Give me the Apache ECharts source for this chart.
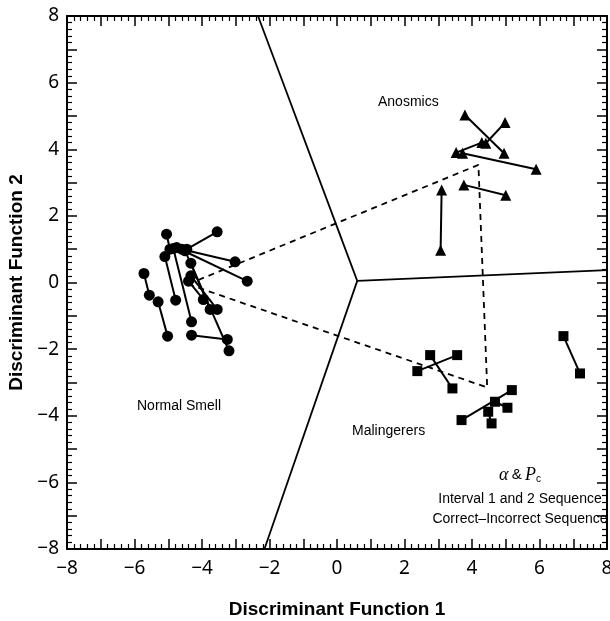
<!DOCTYPE html>
<html>
<head>
<meta charset="utf-8">
<script src="https://cdn.jsdelivr.net/npm/echarts@6/dist/echarts.min.js"></script>
<style>
  html, body { margin: 0; padding: 0; background: #fff; overflow: hidden; }
  #main { width: 610px; height: 621px; }
</style>
</head>
<body>
<div id="main"></div>
<script>
// each row: [x1, y1, x2, y2] -- one subject, two sessions
var normalPairs = [
  [-5.72, 0.27, -5.56, -0.38],
  [-5.30, -0.58, -5.02, -1.61],
  [-4.31, -1.58, -3.25, -1.71],
  [-4.45, 1.00, -3.55, 1.52],
  [-4.60, 1.00, -3.02, 0.62],
  [-4.75, 1.05, -2.66, 0.04],
  [-5.05, 1.45, -4.95, 1.00],
  [-5.10, 0.78, -4.78, -0.53],
  [-4.85, 1.02, -4.31, -1.18],
  [-4.40, 0.04, -3.96, -0.51],
  [-4.33, 0.58, -3.76, -0.81],
  [-4.33, 0.20, -3.55, -0.81],
  [-4.50, 0.95, -3.20, -2.05]
];
var anosmicPairs = [
  [3.79, 5.03, 4.95, 3.88],
  [4.98, 4.80, 4.41, 4.18],
  [4.29, 4.20, 3.53, 3.90],
  [3.72, 3.88, 5.90, 3.40],
  [3.76, 2.93, 5.00, 2.62],
  [3.10, 2.78, 3.07, 0.97]
];
var malingererPairs = [
  [2.38, -2.66, 3.56, -2.18],
  [2.76, -2.18, 3.42, -3.18],
  [3.69, -4.13, 5.18, -3.23],
  [4.68, -3.58, 5.05, -3.76],
  [4.48, -3.88, 4.58, -4.23],
  [6.71, -1.61, 7.20, -2.73]
];
// territorial map boundaries
var boundaryCenter = [0.60, 0.05];
var boundaryEnds = [[-2.34, 8], [8, 0.37], [-2.15, -8]];
// group centroids (dashed triangle)
var centroids = [[-4.41, -0.05], [4.19, 3.53], [4.45, -3.15], [-4.41, -0.05]];

function fmtTick(v) {
  if (v % 2 !== 0) return '';
  return v < 0 ? '\u2212' + Math.abs(v) : String(v);
}

var chart = echarts.init(document.getElementById('main'));
var series = [];

function addPairs(pairs, symbol, size) {
  pairs.forEach(function (p) {
    series.push({
      type: 'line',
      data: [[p[0], p[1]], [p[2], p[3]]],
      symbol: symbol,
      symbolSize: size,
      showSymbol: true,
      silent: true,
      animation: false,
      z: 5,
      lineStyle: { color: '#000', width: 2 },
      itemStyle: { color: '#000', borderWidth: 0 }
    });
  });
}

boundaryEnds.forEach(function (e) {
  series.push({
    type: 'line',
    data: [boundaryCenter, e],
    symbol: 'none',
    silent: true,
    animation: false,
    lineStyle: { color: '#000', width: 1.8 }
  });
});

series.push({
  type: 'line',
  data: centroids,
  symbol: 'none',
  silent: true,
  animation: false,
  lineStyle: { color: '#000', width: 1.8, type: [6, 5] }
});

addPairs(normalPairs, 'circle', 11);
addPairs(anosmicPairs, 'triangle', 11);
addPairs(malingererPairs, 'rect', 10);

var labelFont = 'Noto Sans';
var axisBase = {
  type: 'value',
  min: -8,
  max: 8,
  interval: 1,
  splitLine: { show: false },
  axisLine: { show: true, onZero: false, lineStyle: { color: '#000', width: 2 } },
  axisTick: { show: true, inside: true, length: 10, lineStyle: { color: '#000', width: 1.5 } },
  minorTick: { show: true, splitNumber: 5, length: 5, lineStyle: { color: '#000', width: 1.2 } }
};

function mk(extra) {
  return Object.assign({}, JSON.parse(JSON.stringify(axisBase)), extra);
}

var noteFont = '14px "Liberation Sans"';

chart.setOption({
  animation: false,
  grid: { left: 67, right: 3, top: 16, bottom: 72, containLabel: false, outerBoundsMode: 'none' },
  xAxis: [
    mk({
      position: 'bottom',
      name: 'Discriminant Function 1',
      nameLocation: 'middle',
      nameGap: 51,
      nameTextStyle: { fontFamily: 'Liberation Sans', fontWeight: 'bold', fontSize: 19, color: '#000' },
      axisLabel: { formatter: fmtTick, fontFamily: labelFont, fontSize: 19, color: '#000', margin: 10, showMinLabel: true, showMaxLabel: true }
    }),
    mk({ position: 'top', axisLabel: { show: false } })
  ],
  yAxis: [
    mk({
      position: 'left',
      name: 'Discriminant Function 2',
      nameLocation: 'middle',
      nameGap: 39,
      nameTextStyle: { fontFamily: 'Liberation Sans', fontWeight: 'bold', fontSize: 19, color: '#000' },
      axisLabel: { formatter: fmtTick, fontFamily: labelFont, fontSize: 19, color: '#000', margin: 8, showMinLabel: true, showMaxLabel: true }
    }),
    mk({ position: 'right', axisLabel: { show: false } })
  ],
  series: series,
  graphic: [
    { type: 'text', left: 378, top: 95, style: { text: 'Anosmics', font: '14px "Liberation Sans"', fill: '#000' } },
    { type: 'text', left: 137, top: 399, style: { text: 'Normal Smell', font: '14px "Liberation Sans"', fill: '#000' } },
    { type: 'text', left: 352, top: 424, style: { text: 'Malingerers', font: '14px "Liberation Sans"', fill: '#000' } },
    {
      type: 'text', x: 520, y: 466,
      style: {
        text: '{a|\u03b1} {n|&} {a|P}{s|c}',
        align: 'center',
        rich: {
          a: { fontFamily: 'Liberation Serif', fontStyle: 'italic', fontSize: 18, fill: '#000' },
          n: { fontFamily: 'Liberation Sans', fontSize: 15, fill: '#000' },
          s: { fontFamily: 'Liberation Sans', fontSize: 10, fill: '#000', verticalAlign: 'bottom', padding: [8, 0, 0, 0] }
        }
      }
    },
    { type: 'text', x: 520, y: 492, style: { text: 'Interval 1 and 2 Sequence', font: noteFont, fill: '#000', align: 'center' } },
    { type: 'text', x: 520, y: 512, style: { text: 'Correct\u2013Incorrect Sequence', font: noteFont, fill: '#000', align: 'center' } }
  ]
});
</script>
</body>
</html>
